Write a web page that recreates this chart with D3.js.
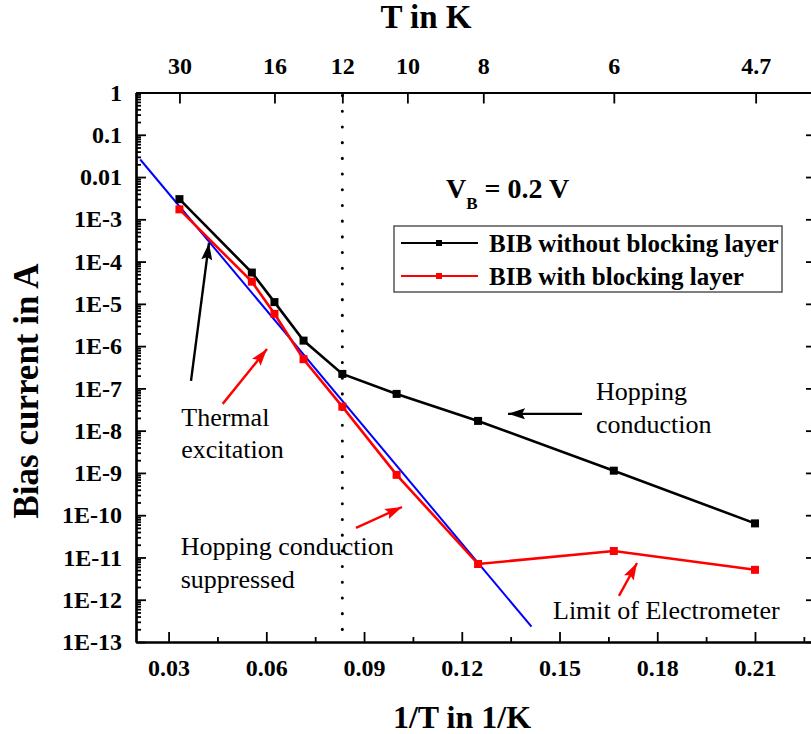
<!DOCTYPE html>
<html>
<head>
<meta charset="utf-8">
<script src="https://cdn.jsdelivr.net/npm/d3@7"></script>
<style>
  body { margin: 0; background: #fff; }
  svg { display: block; }
  text { font-family: "Liberation Serif", "Times New Roman", serif; fill: #000; }
</style>
</head>
<body>
<svg id="chart" width="811" height="734"></svg>
<script>
// Inverse temperature (1/K) of each measurement (30, 18, 16, 14, 12, 10, 8, 6, 4.76 K)
const invT = [1 / 30, 1 / 18, 1 / 16, 1 / 14, 1 / 12, 1 / 10, 1 / 8, 1 / 6, 0.21];
// Bias current (A), BIB detector without blocking layer
const currentNoBlocking = [3.0e-3, 5.5e-5, 1.1e-5, 1.35e-6, 2.2e-7, 7.4e-8, 1.7e-8, 1.13e-9, 6.4e-11];
// Bias current (A), BIB detector with blocking layer
const currentBlocking = [1.72e-3, 3.35e-5, 5.8e-6, 4.9e-7, 3.7e-8, 9.0e-10, 7.0e-12, 1.42e-11, 5.1e-12];
// Thermal-activation fit line (end points)
const fitInvT = [0.0213, 0.1414];
const fitCurrent = [2.6e-2, 2.3e-13];

// Axis ticks
const bottomTicks = [0.03, 0.06, 0.09, 0.12, 0.15, 0.18, 0.21];
const bottomMinorTicks = [0.045, 0.075, 0.105, 0.135, 0.165, 0.195, 0.225];
const topTickT = ["30", "16", "12", "10", "8", "6", "4.7"];
const topTickInvT = [1 / 30, 1 / 16, 1 / 12, 0.1033, 0.1266, 1 / 6, 0.2102];
const yTickValues = [1, 1e-1, 1e-2, 1e-3, 1e-4, 1e-5, 1e-6, 1e-7, 1e-8, 1e-9, 1e-10, 1e-11, 1e-12, 1e-13];
const yTickLabels = ["1", "0.1", "0.01", "1E-3", "1E-4", "1E-5", "1E-6", "1E-7", "1E-8", "1E-9", "1E-10", "1E-11", "1E-12", "1E-13"];
const markerT = 12; // dotted guide at 12 K

// Legend entries
const seriesNames = ["BIB without blocking layer", "BIB with blocking layer"];
const seriesColors = ["#000000", "#ff0000"];

// Annotations (data coordinates)
const notes = [
  { lines: ["Thermal", "excitation"], x: 0.0339, y: 1.32e-8 },
  { lines: ["Hopping conduction", "suppressed"], x: 0.0337, y: 1.14e-11 },
  { lines: ["Hopping", "conduction"], x: 0.1612, y: 5.3e-8 },
  { lines: ["Limit of Electrometer"], x: 0.148, y: 3.44e-13 }
];
const arrows = [
  { from: [0.03688, 1.5e-7], to: [0.0424, 2.75e-4], color: "#000000" },
  { from: [0.04661, 4.3e-8], to: [0.06021, 8.55e-7], color: "#ff0000" },
  { from: [0.08753, 5.0e-11], to: [0.10165, 1.56e-10], color: "#ff0000" },
  { from: [0.1569, 2.5e-8], to: [0.1342, 2.5e-8], color: "#000000" },
  { from: [0.16825, 1.23e-12], to: [0.17378, 7.4e-12], color: "#ff0000" }
];

const svg = d3.select("#chart");
const x = d3.scaleLinear().domain([0.02, 0.2275]).range([136, 812]);
const y = d3.scaleLog().domain([1e-13, 1]).range([642, 92.5]);
const [x0, x1] = x.range();
const [yb, yt] = y.range();

// minor log ticks 2..9 inside each decade
const yMinor = [];
for (let e = -13; e < 0; e++) for (let m = 2; m <= 9; m++) yMinor.push(m * Math.pow(10, e));

function styleAxis(g) {
  g.select(".domain").attr("stroke", "#000").attr("stroke-width", 2.2);
  g.selectAll(".tick line").attr("stroke", "#000").attr("stroke-width", 1.8);
  g.selectAll(".tick text").attr("font-size", 24).attr("font-weight", "bold");
}

// Bottom axis
svg.append("g").attr("transform", `translate(0,${yb})`)
  .call(d3.axisBottom(x).tickValues(bottomTicks).tickSize(-10).tickSizeOuter(0).tickPadding(17)
    .tickFormat(d3.format(".2f")))
  .call(styleAxis);
svg.append("g").attr("transform", `translate(0,${yb})`)
  .call(d3.axisBottom(x).tickValues(bottomMinorTicks).tickSize(-5).tickSizeOuter(0).tickFormat(""))
  .call(styleAxis);

// Top axis (temperature)
svg.append("g").attr("transform", `translate(0,${yt})`)
  .call(d3.axisTop(x).tickValues(topTickInvT).tickSize(-11).tickSizeOuter(0).tickPadding(19)
    .tickFormat((d, i) => topTickT[i]))
  .call(styleAxis);

// Left axis
svg.append("g").attr("transform", `translate(${x0},0)`)
  .call(d3.axisLeft(y).tickValues(yTickValues).tickSize(-10).tickSizeOuter(0).tickPadding(14)
    .tickFormat((d, i) => yTickLabels[i]))
  .call(styleAxis);
svg.append("g").attr("transform", `translate(${x0},0)`)
  .call(d3.axisLeft(y).tickValues(yMinor).tickSize(-5).tickSizeOuter(0).tickFormat(""))
  .call(styleAxis);

// Right axis (frame edge)
svg.append("g").attr("transform", `translate(${x1},0)`)
  .call(d3.axisRight(y).tickValues(yTickValues).tickSize(-6).tickSizeOuter(0).tickFormat(""))
  .call(styleAxis);

// Axis titles
svg.append("text").attr("x", 426).attr("y", 28).attr("text-anchor", "middle")
  .attr("font-size", 33).attr("font-weight", "bold").text("T in K");
svg.append("text").attr("x", 462).attr("y", 728).attr("text-anchor", "middle")
  .attr("font-size", 32).attr("font-weight", "bold").text("1/T in 1/K");
svg.append("text").attr("transform", `translate(38,391) rotate(-90)`).attr("text-anchor", "middle")
  .attr("font-size", 35).attr("font-weight", "bold").text("Bias current in A");

// Dotted guide line at 12 K
svg.append("line")
  .attr("x1", x(1 / markerT)).attr("x2", x(1 / markerT))
  .attr("y1", yt + 3).attr("y2", yb)
  .attr("stroke", "#000").attr("stroke-width", 3)
  .attr("stroke-linecap", "round").attr("stroke-dasharray", "0.1,15.6");

// Fit line
svg.append("line")
  .attr("x1", x(fitInvT[0])).attr("y1", y(fitCurrent[0]))
  .attr("x2", x(fitInvT[1])).attr("y2", y(fitCurrent[1]))
  .attr("stroke", "#0000ff").attr("stroke-width", 2);

// Data series
const line = d3.line().x(d => x(d[0])).y(d => y(d[1]));
[currentNoBlocking, currentBlocking].forEach((vals, k) => {
  const pts = invT.map((t, i) => [t, vals[i]]);
  svg.append("path").datum(pts).attr("fill", "none")
    .attr("stroke", seriesColors[k]).attr("stroke-width", 2.6).attr("d", line);
  svg.append("g").selectAll("rect").data(pts).join("rect")
    .attr("x", d => x(d[0]) - 4).attr("y", d => y(d[1]) - 4)
    .attr("width", 8).attr("height", 8).attr("fill", seriesColors[k]);
});

// Arrows
const defs = svg.append("defs");
seriesColors.forEach((c, i) => {
  defs.append("marker").attr("id", "head" + i)
    .attr("viewBox", "0 0 17 11").attr("refX", 17).attr("refY", 5.5)
    .attr("markerWidth", 17).attr("markerHeight", 11).attr("markerUnits", "userSpaceOnUse")
    .attr("orient", "auto")
    .append("path").attr("d", "M0,0 L17,5.5 L0,11 L3,5.5 Z").attr("fill", c);
});
arrows.forEach(a => {
  svg.append("line")
    .attr("x1", x(a.from[0])).attr("y1", y(a.from[1]))
    .attr("x2", x(a.to[0])).attr("y2", y(a.to[1]))
    .attr("stroke", a.color).attr("stroke-width", 2.4)
    .attr("marker-end", `url(#head${seriesColors.indexOf(a.color)})`);
});

// Annotation text
notes.forEach(n => {
  const t = svg.append("text").attr("font-size", 26);
  n.lines.forEach((s, i) => {
    t.append("tspan").attr("x", x(n.x)).attr("y", y(n.y) + i * 32.5).text(s);
  });
});

// Bias voltage label
const vb = svg.append("text").attr("x", 446).attr("y", 198).attr("font-size", 28).attr("font-weight", "bold");
vb.append("tspan").text("V");
vb.append("tspan").attr("font-size", 17).attr("dy", 11).text("B");
vb.append("tspan").attr("dy", -11).text(" = 0.2 V");

// Legend
const lg = svg.append("g").attr("transform", "translate(394,226)");
lg.append("rect").attr("width", 388).attr("height", 66)
  .attr("fill", "#fff").attr("stroke", "#555").attr("stroke-width", 1.5);
seriesNames.forEach((name, i) => {
  const row = lg.append("g").attr("transform", `translate(0,${17 + i * 33})`);
  row.append("line").attr("x1", 7).attr("x2", 84).attr("stroke", seriesColors[i]).attr("stroke-width", 2.2);
  row.append("rect").attr("x", 42).attr("y", -3).attr("width", 6).attr("height", 6).attr("fill", seriesColors[i]);
  row.append("text").attr("x", 95).attr("dy", "0.35em").attr("font-size", 25).attr("font-weight", "bold").text(name);
});
</script>
</body>
</html>
